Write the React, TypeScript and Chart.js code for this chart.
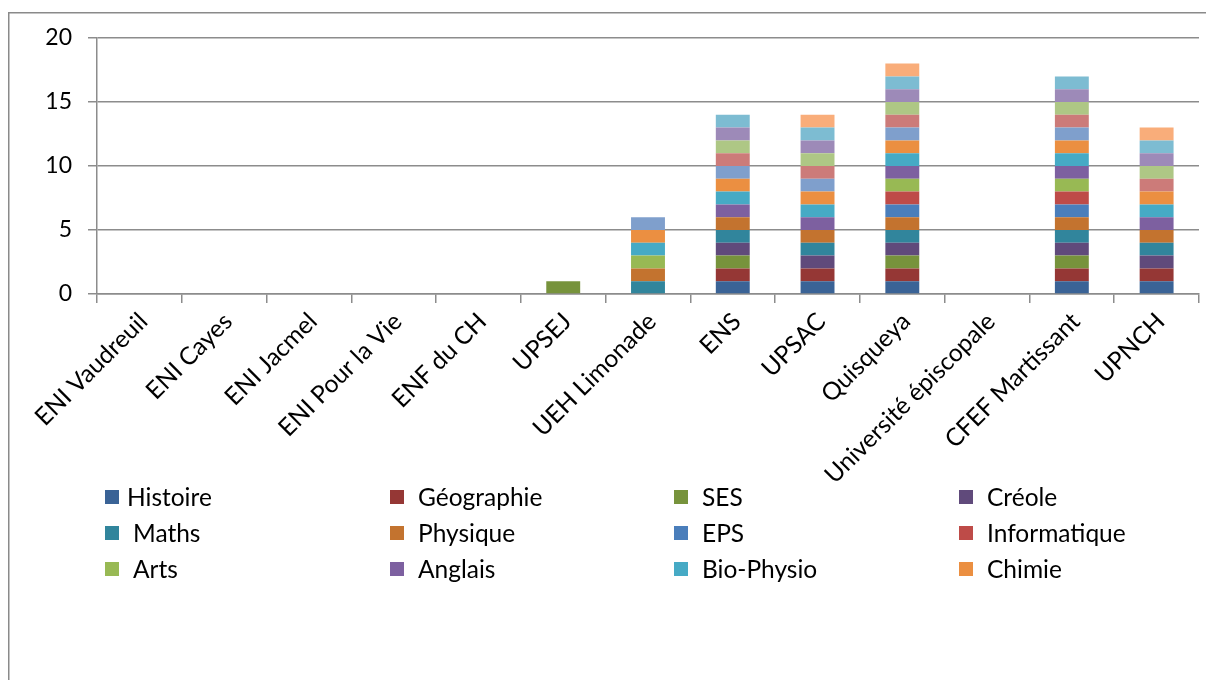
import React, { useEffect, useRef } from "react";
import { Chart, registerables } from "chart.js";

Chart.register(...registerables);

const categories = [
  "ENI Vaudreuil",
  "ENI Cayes",
  "ENI Jacmel",
  "ENI Pour la Vie",
  "ENF du CH",
  "UPSEJ",
  "UEH Limonade",
  "ENS",
  "UPSAC",
  "Quisqueya",
  "Université épiscopale",
  "CFEF Martissant",
  "UPNCH",
];

const histoire = [0, 0, 0, 0, 0, 0, 0, 1, 1, 1, 0, 1, 1];
const geographie = [0, 0, 0, 0, 0, 0, 0, 1, 1, 1, 0, 1, 1];
const ses = [0, 0, 0, 0, 0, 1, 0, 1, 0, 1, 0, 1, 0];
const creole = [0, 0, 0, 0, 0, 0, 0, 1, 1, 1, 0, 1, 1];
const maths = [0, 0, 0, 0, 0, 0, 1, 1, 1, 1, 0, 1, 1];
const physique = [0, 0, 0, 0, 0, 0, 1, 1, 1, 1, 0, 1, 1];
const eps = [0, 0, 0, 0, 0, 0, 0, 0, 0, 1, 0, 1, 0];
const informatique = [0, 0, 0, 0, 0, 0, 0, 0, 0, 1, 0, 1, 0];
const arts = [0, 0, 0, 0, 0, 0, 1, 0, 0, 1, 0, 1, 0];
const anglais = [0, 0, 0, 0, 0, 0, 0, 1, 1, 1, 0, 1, 1];
const bioPhysio = [0, 0, 0, 0, 0, 0, 1, 1, 1, 1, 0, 1, 1];
const chimie = [0, 0, 0, 0, 0, 0, 1, 1, 1, 1, 0, 1, 1];
const serie13 = [0, 0, 0, 0, 0, 0, 1, 1, 1, 1, 0, 1, 0];
const serie14 = [0, 0, 0, 0, 0, 0, 0, 1, 1, 1, 0, 1, 1];
const serie15 = [0, 0, 0, 0, 0, 0, 0, 1, 1, 1, 0, 1, 1];
const serie16 = [0, 0, 0, 0, 0, 0, 0, 1, 1, 1, 0, 1, 1];
const serie17 = [0, 0, 0, 0, 0, 0, 0, 1, 1, 1, 0, 1, 1];
const serie18 = [0, 0, 0, 0, 0, 0, 0, 0, 1, 1, 0, 0, 1];

const seriesNames = [
  "Histoire", "Géographie", "SES", "Créole",
  "Maths", "Physique", "EPS", "Informatique",
  "Arts", "Anglais", "Bio-Physio", "Chimie",
  "Série 13", "Série 14", "Série 15", "Série 16", "Série 17", "Série 18",
];
const seriesValues = [
  histoire, geographie, ses, creole,
  maths, physique, eps, informatique,
  arts, anglais, bioPhysio, chimie,
  serie13, serie14, serie15, serie16, serie17, serie18,
];
const seriesColors = [
  "#3A6396", "#953735", "#77933C", "#604A7B",
  "#31859C", "#C3732F", "#4A7EBB", "#BE4B48",
  "#98B954", "#7D60A0", "#46AAC5", "#EB8F41",
  "#7F9FCC", "#CC7B79", "#AEC785", "#9D8AB8", "#7DBCD2", "#F9AD7A",
];
const legendCount = 12;
const yTicks = [0, 5, 10, 15, 20];

const FONT = "Lato, 'Open Sans', sans-serif";
const GRID = "#8c8c8c";

const framePlugin = {
  id: "frame",
  beforeDraw(chart: any) {
    const ctx = chart.ctx;
    ctx.save();
    ctx.fillStyle = "#ffffff";
    ctx.fillRect(0, 0, chart.width, chart.height);
    ctx.strokeStyle = "#8a8a8a";
    ctx.lineWidth = 1.5;
    ctx.beginPath();
    ctx.moveTo(0.75, chart.height + 5);
    ctx.lineTo(0.75, 4.75);
    ctx.lineTo(chart.width + 5, 4.75);
    ctx.stroke();
    ctx.restore();
  },
};

const legendPlugin = {
  id: "gridLegend",
  afterDraw(chart: any) {
    const ctx = chart.ctx;
    const colX = [97, 382, 666, 951];
    const rowMid = [489, 525, 561];
    const box = 14;
    ctx.save();
    ctx.font = `24.5px ${FONT}`;
    ctx.textBaseline = "middle";
    ctx.textAlign = "left";
    for (let i = 0; i < legendCount; i++) {
      const c = i % 4;
      const r = Math.floor(i / 4);
      const x = colX[c];
      const y = rowMid[r];
      ctx.fillStyle = seriesColors[i];
      ctx.fillRect(x, y - box / 2, box, box);
      ctx.fillStyle = "#000000";
      ctx.fillText(seriesNames[i], x + (i === 0 ? 22 : 28), y + 1);
    }
    ctx.restore();
  },
};

export default function App() {
  const canvasRef = useRef<HTMLCanvasElement | null>(null);

  useEffect(() => {
    if (!canvasRef.current) return;
    const chart = new Chart(canvasRef.current, {
      type: "bar",
      data: {
        labels: categories,
        datasets: seriesNames.map((name, i) => ({
          label: name,
          data: seriesValues[i],
          backgroundColor: seriesColors[i],
          borderWidth: 0,
          categoryPercentage: 1,
          barPercentage: 0.4,
        })),
      },
      options: {
        animation: false,
        responsive: true,
        maintainAspectRatio: false,
        layout: { padding: { left: 0, right: 15, top: 30, bottom: 0 } },
        plugins: {
          legend: { display: false },
          tooltip: { enabled: false },
        },
        scales: {
          x: {
            stacked: true,
            offset: true,
            afterFit: (scale: any) => {
              scale.height = 386;
            },
            grid: {
              display: true,
              drawOnChartArea: false,
              drawTicks: true,
              tickLength: 9,
              offset: true,
              color: GRID,
              lineWidth: 1.5,
            },
            border: { display: true, color: GRID, width: 1.5 },
            ticks: {
              autoSkip: false,
              maxRotation: 45,
              minRotation: 45,
              padding: 4,
              labelOffset: 4,
              color: "#000000",
              font: { family: FONT, size: 24.5 },
            },
          },
          y: {
            stacked: true,
            min: 0,
            max: 20,
            afterFit: (scale: any) => {
              scale.width = 89;
            },
            afterBuildTicks: (scale: any) => {
              scale.ticks = yTicks.map((v) => ({ value: v }));
            },
            grid: {
              display: true,
              drawTicks: true,
              tickLength: 9,
              color: GRID,
              lineWidth: 1.5,
            },
            border: { display: true, color: GRID, width: 1.5 },
            ticks: {
              padding: 16,
              color: "#000000",
              font: { family: FONT, size: 23 },
            },
          },
        },
      },
      plugins: [framePlugin, legendPlugin],
    });
    return () => chart.destroy();
  }, []);

  return (
    <div style={{ position: "relative", width: "1206px", height: "672px" }}>
      <canvas ref={canvasRef} />
    </div>
  );
}
